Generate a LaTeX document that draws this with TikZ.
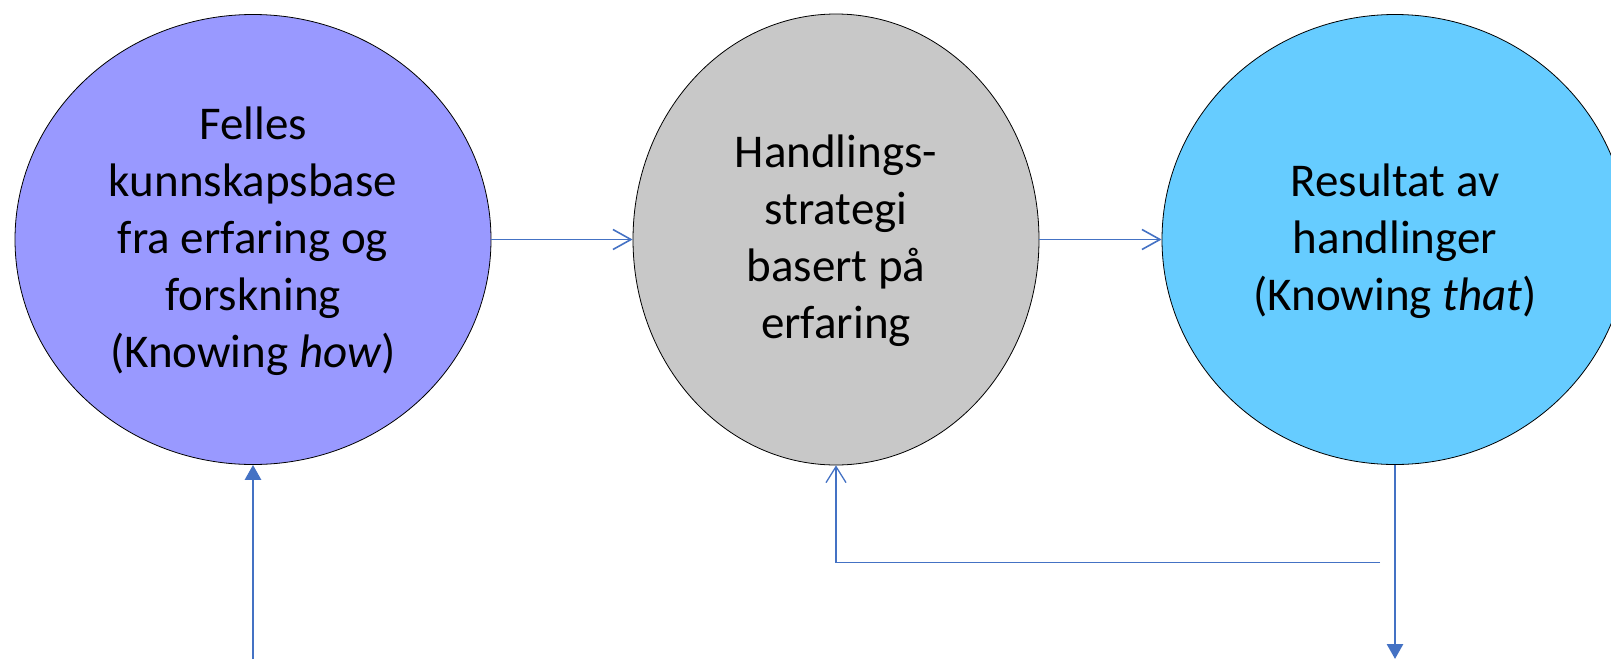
\documentclass[tikz,border=0pt]{standalone}
\usepackage{fontspec}
\setmainfont{Carlito}
\usetikzlibrary{arrows.meta,shapes.geometric}
\definecolor{lblue}{HTML}{9999FF}
\definecolor{lgray}{HTML}{C8C8C8}
\definecolor{sky}{HTML}{66CCFF}
\definecolor{arr}{HTML}{4472C4}
\newcommand\firststrut{\rule{0pt}{45pt}}
\begin{document}
\begin{tikzpicture}[x=1pt,y=1pt,
  bubble/.style={ellipse,draw=black,line width=0.8pt,inner sep=0pt,align=center,
    font=\fontsize{47}{57}\selectfont},
  thinarrow/.style={draw=arr,line width=1.6pt,-{Straight Barb[length=18pt,width=20pt]}},
  fbarrow/.style={draw=arr,line width=1.3pt,-{Straight Barb[length=16pt,width=20pt]}},
  thickarrow/.style={draw=arr,line width=2.8pt,-{Triangle[length=15pt,width=16pt]}}]
\useasboundingbox (0,0) rectangle (1611,-659);
\node[bubble,fill=lblue,minimum width=476pt,minimum height=450pt] (L) at (253,-239.5)
  {\firststrut Felles\\\strut kunnskapsbase\\\strut fra erfaring og\\\strut forskning\\\strut(Knowing \textit{how})};
\node[bubble,fill=lgray,minimum width=406pt,minimum height=451pt] (M) at (836,-239.5)
  {\firststrut Handlings-\\\strut strategi\\\strut basert på\\\strut erfaring};
\node[bubble,fill=sky,minimum width=466pt,minimum height=450pt] (R) at (1395,-239.5)
  {\firststrut Resultat av\\\strut handlinger\\\strut(Knowing \textit{that})};
\coordinate (lb) at (253,-659);
\coordinate (rb) at (1395,-659);
\coordinate (fb) at (1380,-562.7);
\draw[thinarrow] (L) -- (M);
\draw[thinarrow] (M) -- (R);
\draw[thickarrow] (lb) -- (L.south);
\draw[thickarrow] (R.south) -- (rb);
\draw[fbarrow] (fb) -| (M.south);
\end{tikzpicture}
\end{document}
